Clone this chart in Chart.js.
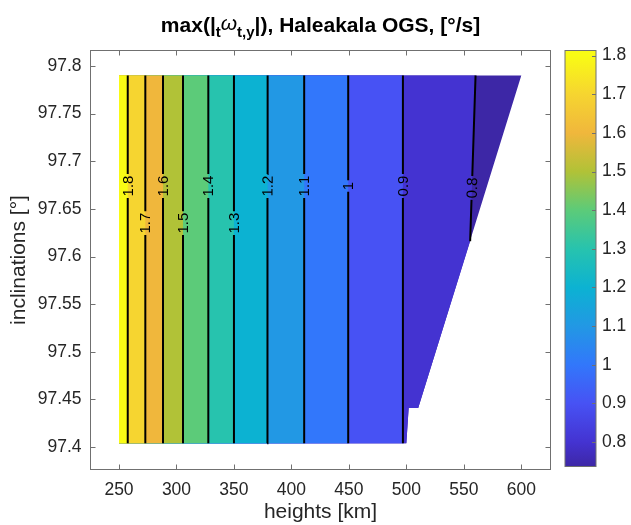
<!DOCTYPE html>
<html><head><meta charset="utf-8">
<script src="https://cdn.jsdelivr.net/npm/chart.js@4"></script>
<style>
html,body{margin:0;padding:0;background:#fff;}
#wrap{position:relative;width:631px;height:525px;overflow:hidden;}
#main{position:absolute;left:0;top:0;}
#cbar{position:absolute;left:555px;top:0;}
</style></head><body>
<div id="wrap">
<canvas id="main" width="631" height="525"></canvas>
<canvas id="cbar" width="76" height="525"></canvas>
</div>
<script>
// ---------------- data ----------------
const levels        = [1.8, 1.7, 1.6, 1.5, 1.4, 1.3, 1.2, 1.1, 1.0, 0.9, 0.8];
const levelLabels   = ['1.8','1.7','1.6','1.5','1.4','1.3','1.2','1.1','1','0.9','0.8'];
const contourTopH   = [257.6, 272.9, 288.3, 305.7, 327.7, 350.0, 379.3, 411.1, 449.4, 497.0, 560.2];
const contourBotH   = [257.6, 272.9, 288.3, 305.7, 327.7, 350.0, 378.9, 411.1, 449.4, 497.0, 555.5];
const contourBotI   = [97.404, 97.404, 97.404, 97.404, 97.404, 97.404, 97.404, 97.404, 97.404, 97.404, 97.616];
const labelI        = [97.674, 97.635, 97.674, 97.635, 97.674, 97.635, 97.674, 97.674, 97.674, 97.674, 97.672];
const bandColors    = ['#F9FB15','#F6D530','#F0B73C','#B1C237','#5CCB79','#27C3AE','#0CB2D2','#2298E4','#3277FB','#4752F4','#4433D1'];
const belowColor    = '#3D27A6';
const heightMin     = 250;
const inclMin       = 97.404;
const inclMax       = 97.79;
const boundaryH     = [500.0, 502.0, 510.3, 600.0];
const boundaryI     = [97.404, 97.441, 97.441, 97.79];
const xTicks        = [250, 300, 350, 400, 450, 500, 550, 600];
const xTickLabels   = ['250','300','350','400','450','500','550','600'];
const yTicks        = [97.4, 97.45, 97.5, 97.55, 97.6, 97.65, 97.7, 97.75, 97.8];
const yTickLabels   = ['97.4','97.45','97.5','97.55','97.6','97.65','97.7','97.75','97.8'];
const cbTicks       = [0.8, 0.9, 1.0, 1.1, 1.2, 1.3, 1.4, 1.5, 1.6, 1.7, 1.8];
const cbTickLabels  = ['0.8','0.9','1','1.1','1.2','1.3','1.4','1.5','1.6','1.7','1.8'];
const cbMin = 0.737, cbMax = 1.813;
const xMin = 225.2, xMax = 625.4, yMin = 97.3764, yMax = 97.8163;

// ---------------- style ----------------
const FONT = "'Liberation Sans', Arial, Helvetica, sans-serif";
const TXT = '#262626';
const AXC = '#707070';
const TICK_SIZE = 17.5, LABEL_SIZE = 21, CLABEL_SIZE = 15;
Chart.defaults.font.family = FONT;
Chart.defaults.color = TXT;

// gap around contour labels (data units)
const mctx = document.createElement('canvas').getContext('2d');
mctx.font = CLABEL_SIZE + 'px ' + FONT;
const plotH = 469.5 - 50.5;
const pxPerDeg = plotH / (yMax - yMin);
function hAt(k, i) {
  return contourBotH[k] + (i - contourBotI[k]) / (inclMax - contourBotI[k]) * (contourTopH[k] - contourBotH[k]);
}

const datasets = [];
// contour lines
levels.forEach((lv, k) => {
  const gap = (mctx.measureText(levelLabels[k]).width / 2 + 1.5) / pxPerDeg;
  const lo = labelI[k] - gap, hi = labelI[k] + gap;
  datasets.push({
    data: [
      {x: contourBotH[k], y: contourBotI[k]},
      {x: hAt(k, lo), y: lo},
      {x: hAt(k, labelI[k]), y: null},
      {x: hAt(k, hi), y: hi},
      {x: contourTopH[k], y: inclMax}
    ],
    showLine: true, borderColor: '#000', borderWidth: 2, pointRadius: 0, fill: false, spanGaps: false
  });
});
// filled regions (value >= level), topmost first
levels.forEach((lv, k) => {
  const pts = [{x: heightMin, y: inclMin}];
  boundaryH.forEach((h, j) => { if (boundaryI[j] < contourBotI[k]) pts.push({x: h, y: boundaryI[j]}); });
  pts.push({x: contourBotH[k], y: contourBotI[k]});
  pts.push({x: contourTopH[k], y: inclMax});
  pts.push({x: heightMin, y: inclMax});
  datasets.push({data: pts, showLine: true, borderWidth: 0, borderColor: 'rgba(0,0,0,0)',
    backgroundColor: bandColors[k], pointRadius: 0, fill: 'shape'});
});
// whole valid region (value < lowest level)
{
  const pts = [{x: heightMin, y: inclMin}];
  boundaryH.forEach((h, j) => pts.push({x: h, y: boundaryI[j]}));
  pts.push({x: heightMin, y: inclMax});
  datasets.push({data: pts, showLine: true, borderWidth: 0, borderColor: 'rgba(0,0,0,0)',
    backgroundColor: belowColor, pointRadius: 0, fill: 'shape'});
}

// ---------------- plugins ----------------
const boxPlugin = {
  id: 'boxTicks',
  afterDraw(chart) {
    const {ctx, chartArea: a, scales} = chart;
    ctx.save();
    ctx.strokeStyle = AXC; ctx.lineWidth = 1;
    ctx.strokeRect(a.left, a.top, a.right - a.left, a.bottom - a.top);
    ctx.beginPath();
    xTicks.forEach(v => {
      const p = Math.round(scales.x.getPixelForValue(v)) + 0.5;
      ctx.moveTo(p, a.bottom); ctx.lineTo(p, a.bottom - 5);
      ctx.moveTo(p, a.top); ctx.lineTo(p, a.top + 5);
    });
    yTicks.forEach(v => {
      const p = Math.round(scales.y.getPixelForValue(v)) + 0.5;
      ctx.moveTo(a.left, p); ctx.lineTo(a.left + 5, p);
      ctx.moveTo(a.right, p); ctx.lineTo(a.right - 5, p);
    });
    ctx.stroke();
    ctx.restore();
  }
};

const labelPlugin = {
  id: 'clabels',
  afterDatasetsDraw(chart) {
    const {ctx, scales: {x, y}} = chart;
    ctx.save();
    ctx.font = CLABEL_SIZE + 'px ' + FONT;
    ctx.fillStyle = '#000';
    ctx.textAlign = 'center'; ctx.textBaseline = 'middle';
    levels.forEach((lv, k) => {
      const px = x.getPixelForValue(hAt(k, labelI[k]));
      const py = y.getPixelForValue(labelI[k]);
      const x0 = x.getPixelForValue(contourBotH[k]), y0 = y.getPixelForValue(contourBotI[k]);
      const x1 = x.getPixelForValue(contourTopH[k]), y1 = y.getPixelForValue(inclMax);
      const ang = Math.atan2(y1 - y0, x1 - x0);
      ctx.save();
      ctx.translate(px, py);
      ctx.rotate(ang);
      ctx.fillText(levelLabels[k], 0, 1);
      ctx.restore();
    });
    ctx.restore();
  }
};

const titlePlugin = {
  id: 'richTitle',
  afterDraw(chart) {
    const {ctx, chartArea: a} = chart;
    const big = 'bold 21px ' + FONT, small = 'bold 15px ' + FONT, om = 'italic 21px ' + FONT;
    const parts = [
      {t: 'max(|', f: big, dy: 0},
      {t: 't', f: small, dy: 5},
      {t: 'ω', f: om, dy: -2},
      {t: 't,y', f: small, dy: 5},
      {t: '|), Haleakala OGS, [°/s]', f: big, dy: 0}
    ];
    ctx.save();
    let w = 0;
    parts.forEach(p => { ctx.font = p.f; p.w = ctx.measureText(p.t).width; w += p.w; });
    let cx = (a.left + a.right) / 2 - w / 2;
    const base = 32;
    ctx.fillStyle = '#000';
    ctx.textBaseline = 'alphabetic'; ctx.textAlign = 'left';
    parts.forEach(p => { ctx.font = p.f; ctx.fillText(p.t, cx, base + p.dy); cx += p.w; });
    ctx.restore();
  }
};

// ---------------- main chart ----------------
new Chart(document.getElementById('main'), {
  type: 'scatter',
  data: {datasets},
  options: {
    responsive: false, animation: false, events: [],
    layout: {padding: {left: 0, top: 50.5, right: 80.5, bottom: 0}},
    plugins: {legend: {display: false}, tooltip: {enabled: false}, title: {display: false}},
    scales: {
      x: {
        type: 'linear', min: xMin, max: xMax,
        afterBuildTicks: s => { s.ticks = xTicks.map(v => ({value: v})); },
        afterFit: s => { s.height = 55.5; },
        ticks: {callback: (v, i) => xTickLabels[i], font: {size: TICK_SIZE}, color: TXT, padding: 10, maxRotation: 0, autoSkip: false},
        grid: {display: false, drawTicks: false},
        border: {display: false},
        title: {display: true, text: 'heights [km]', font: {size: LABEL_SIZE}, color: TXT, padding: {top: 0, bottom: 0}}
      },
      y: {
        type: 'linear', min: yMin, max: yMax,
        afterBuildTicks: s => { s.ticks = yTicks.map(v => ({value: v})); },
        afterFit: s => { s.width = 90.5; },
        ticks: {callback: (v, i) => yTickLabels[i], font: {size: TICK_SIZE}, color: TXT, padding: 9, autoSkip: false},
        grid: {display: false, drawTicks: false},
        border: {display: false},
        title: {display: true, text: 'inclinations [°]', font: {size: LABEL_SIZE}, color: TXT, padding: {top: 7, bottom: 0}}
      }
    }
  },
  plugins: [labelPlugin, boxPlugin, titlePlugin]
});

// ---------------- colorbar ----------------
const cbStopPos = [0].concat(levels.slice().reverse().map(l => (l - cbMin) / (cbMax - cbMin))).concat([1]);
const cbStopCol = [belowColor].concat(bandColors.slice().reverse()).concat(['#F9FB15']);
const cbPlugin = {
  id: 'cbBox',
  afterDraw(chart) {
    const {ctx, chartArea: a, scales: {y}} = chart;
    ctx.save();
    ctx.strokeStyle = AXC; ctx.lineWidth = 1;
    ctx.strokeRect(a.left, a.top, a.right - a.left, a.bottom - a.top);
    ctx.beginPath();
    cbTicks.forEach(v => {
      const p = Math.round(y.getPixelForValue(v)) + 0.5;
      ctx.moveTo(a.right, p); ctx.lineTo(a.right - 4, p);
    });
    ctx.stroke();
    ctx.restore();
  }
};
new Chart(document.getElementById('cbar'), {
  type: 'bar',
  data: {labels: [''], datasets: [{
    data: [[cbMin, cbMax]],
    borderWidth: 0, barPercentage: 1, categoryPercentage: 1,
    backgroundColor: c => {
      const {ctx, chartArea} = c.chart;
      if (!chartArea) return belowColor;
      const g = ctx.createLinearGradient(0, chartArea.bottom, 0, chartArea.top);
      cbStopPos.forEach((p, i) => g.addColorStop(Math.min(1, Math.max(0, p)), cbStopCol[i]));
      return g;
    }
  }]},
  options: {
    responsive: false, animation: false, events: [],
    layout: {padding: {left: 10, top: 50.5, right: 0, bottom: 58.5}},
    plugins: {legend: {display: false}, tooltip: {enabled: false}},
    scales: {
      x: {display: false},
      y: {
        position: 'right', min: cbMin, max: cbMax,
        afterBuildTicks: s => { s.ticks = cbTicks.map(v => ({value: v})); },
        afterFit: s => { s.width = 35; },
        ticks: {callback: (v, i) => cbTickLabels[i], font: {size: TICK_SIZE}, color: TXT, padding: 6, autoSkip: false},
        grid: {display: false, drawTicks: false},
        border: {display: false}
      }
    }
  },
  plugins: [cbPlugin]
});
</script>
</body></html>
